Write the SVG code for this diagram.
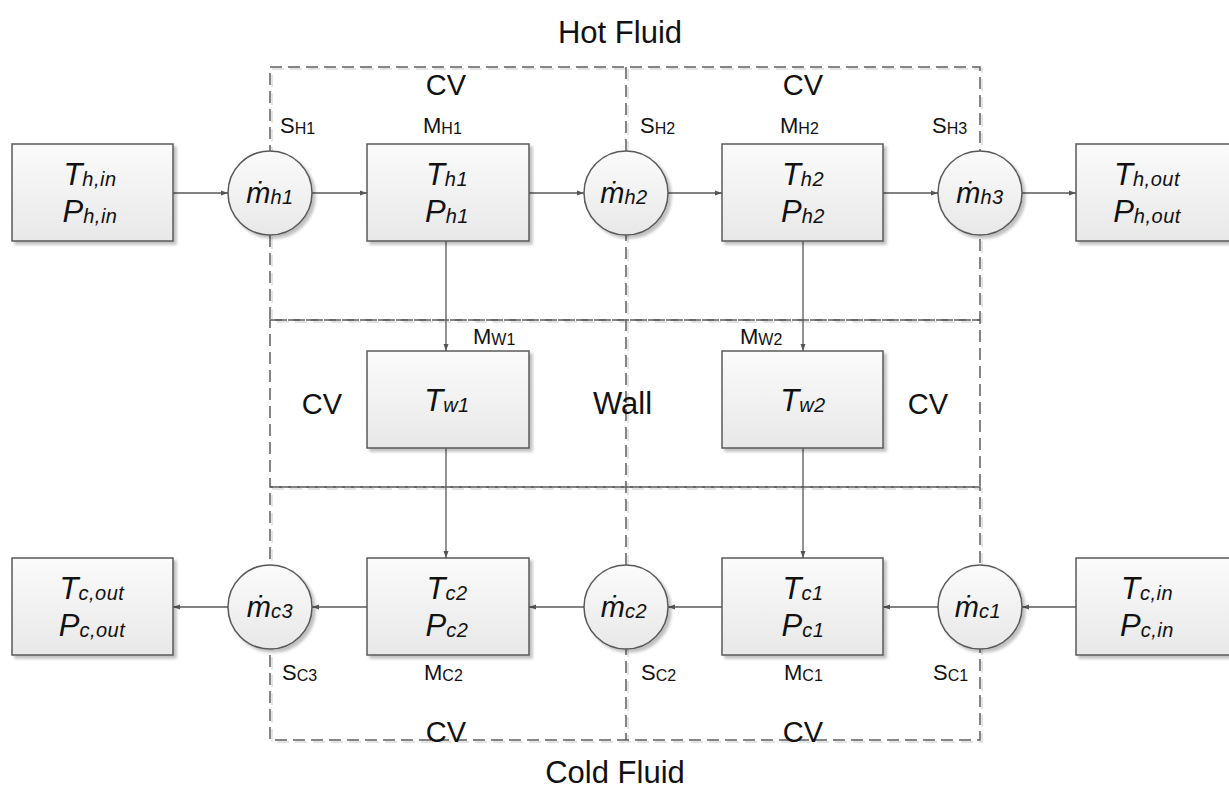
<svg xmlns="http://www.w3.org/2000/svg" width="1229" height="790" viewBox="0 0 1229 790">
<defs>
<linearGradient id="g" x1="0" y1="0" x2="0" y2="1">
<stop offset="0" stop-color="#fbfbfb"/>
<stop offset="1" stop-color="#e8e8e8"/>
</linearGradient>
<filter id="sh" x="-10%" y="-10%" width="130%" height="130%">
<feGaussianBlur in="SourceAlpha" stdDeviation="1.5"/>
<feOffset dx="3" dy="3" result="b"/>
<feComponentTransfer><feFuncA type="linear" slope="0.25"/></feComponentTransfer>
<feMerge><feMergeNode/><feMergeNode in="SourceGraphic"/></feMerge>
</filter>
<marker id="arr" markerWidth="8" markerHeight="8" refX="7" refY="4" orient="auto" markerUnits="userSpaceOnUse">
<path d="M0,1.5 L7,4 L0,6.5 Z" fill="#555"/>
</marker>
</defs>
<style>
.box{fill:url(#g);stroke:#595959;stroke-width:1.5;filter:url(#sh)}
.dash{fill:none;stroke:#5e5e5e;stroke-width:1.5;stroke-dasharray:12 6}
.dashsh{fill:none;stroke:#dcdcdc;stroke-width:1.5;stroke-dasharray:12 6}
.con{fill:none;stroke:#595959;stroke-width:1.3;marker-end:url(#arr)}
text{font-family:"Liberation Sans",Arial,sans-serif;fill:#111}
.nv{font-size:31px;font-style:italic;text-anchor:middle}
.sub{font-size:20px;letter-spacing:0.5px}
.cn{font-size:29px;font-style:italic;text-anchor:middle}
.big{font-size:31px;text-anchor:middle}
.cv{font-size:29px;text-anchor:middle}
.lb{font-size:22px}
.lsub{font-size:16px}
</style>

<g id="control-volumes">
<rect class="dashsh" x="272" y="69" width="710" height="253"/>
<rect class="dashsh" x="272" y="489" width="710" height="253"/>
<line class="dashsh" x1="628" y1="69" x2="628" y2="742"/>
<rect class="dash" x="270" y="67" width="710" height="253"/>
<rect class="dash" x="270" y="320" width="710" height="167"/>
<rect class="dash" x="270" y="487" width="710" height="253"/>
<line class="dash" x1="626" y1="67" x2="626" y2="740"/>
</g>

<g id="connectors">
<line class="con" x1="173" y1="193" x2="228" y2="193"/>
<line class="con" x1="312" y1="193" x2="367" y2="193"/>
<line class="con" x1="529" y1="193" x2="584" y2="193"/>
<line class="con" x1="668" y1="193" x2="722" y2="193"/>
<line class="con" x1="883" y1="193" x2="938" y2="193"/>
<line class="con" x1="1022" y1="193" x2="1076" y2="193"/>
<line class="con" x1="446" y1="241" x2="446" y2="351"/>
<line class="con" x1="803" y1="241" x2="803" y2="351"/>
<line class="con" x1="446" y1="448" x2="446" y2="558"/>
<line class="con" x1="803" y1="448" x2="803" y2="558"/>
<line class="con" x1="1076" y1="607" x2="1022" y2="607"/>
<line class="con" x1="938" y1="607" x2="883" y2="607"/>
<line class="con" x1="722" y1="607" x2="668" y2="607"/>
<line class="con" x1="584" y1="607" x2="529" y2="607"/>
<line class="con" x1="367" y1="607" x2="312" y2="607"/>
<line class="con" x1="228" y1="607" x2="173" y2="607"/>
</g>

<g id="Th_in">
<rect class="box" x="12" y="144" width="161" height="97"/>
<text class="nv" x="90" y="185">T<tspan class="sub" dy="1">h,in</tspan></text>
<text class="nv" x="90" y="222">P<tspan class="sub" dy="1">h,in</tspan></text>
</g>
<g id="mh1">
<circle class="box" cx="270" cy="193" r="42"/>
<text class="cn" x="270" y="203">ṁ<tspan class="sub" dy="1">h1</tspan></text>
</g>
<g id="Th1">
<rect class="box" x="367" y="144" width="162" height="97"/>
<text class="nv" x="447" y="185">T<tspan class="sub" dy="1">h1</tspan></text>
<text class="nv" x="447" y="222">P<tspan class="sub" dy="1">h1</tspan></text>
</g>
<g id="mh2">
<circle class="box" cx="626" cy="193" r="42"/>
<text class="cn" x="624" y="203">ṁ<tspan class="sub" dy="1">h2</tspan></text>
</g>
<g id="Th2">
<rect class="box" x="722" y="144" width="161" height="97"/>
<text class="nv" x="803" y="185">T<tspan class="sub" dy="1">h2</tspan></text>
<text class="nv" x="803" y="222">P<tspan class="sub" dy="1">h2</tspan></text>
</g>
<g id="mh3">
<circle class="box" cx="980" cy="193" r="42"/>
<text class="cn" x="980" y="203">ṁ<tspan class="sub" dy="1">h3</tspan></text>
</g>
<g id="Th_out">
<rect class="box" x="1076" y="144" width="161" height="97"/>
<text class="nv" x="1147" y="185">T<tspan class="sub" dy="1">h,out</tspan></text>
<text class="nv" x="1147" y="222">P<tspan class="sub" dy="1">h,out</tspan></text>
</g>

<g id="Tw1">
<rect class="box" x="367" y="351" width="162" height="97"/>
<text class="nv" x="447" y="411">T<tspan class="sub" dy="1">w1</tspan></text>
</g>
<g id="Tw2">
<rect class="box" x="722" y="351" width="161" height="97"/>
<text class="nv" x="803" y="411">T<tspan class="sub" dy="1">w2</tspan></text>
</g>

<g id="Tc_out">
<rect class="box" x="12" y="558" width="161" height="97"/>
<text class="nv" x="92" y="599">T<tspan class="sub" dy="1">c,out</tspan></text>
<text class="nv" x="92" y="636">P<tspan class="sub" dy="1">c,out</tspan></text>
</g>
<g id="mc3">
<circle class="box" cx="270" cy="607" r="42"/>
<text class="cn" x="270" y="617">ṁ<tspan class="sub" dy="1">c3</tspan></text>
</g>
<g id="Tc2">
<rect class="box" x="367" y="558" width="162" height="97"/>
<text class="nv" x="447" y="599">T<tspan class="sub" dy="1">c2</tspan></text>
<text class="nv" x="447" y="636">P<tspan class="sub" dy="1">c2</tspan></text>
</g>
<g id="mc2">
<circle class="box" cx="626" cy="607" r="42"/>
<text class="cn" x="624" y="617">ṁ<tspan class="sub" dy="1">c2</tspan></text>
</g>
<g id="Tc1">
<rect class="box" x="722" y="558" width="161" height="97"/>
<text class="nv" x="803" y="599">T<tspan class="sub" dy="1">c1</tspan></text>
<text class="nv" x="803" y="636">P<tspan class="sub" dy="1">c1</tspan></text>
</g>
<g id="mc1">
<circle class="box" cx="980" cy="607" r="42"/>
<text class="cn" x="978" y="617">ṁ<tspan class="sub" dy="1">c1</tspan></text>
</g>
<g id="Tc_in">
<rect class="box" x="1076" y="558" width="161" height="97"/>
<text class="nv" x="1147" y="599">T<tspan class="sub" dy="1">c,in</tspan></text>
<text class="nv" x="1147" y="636">P<tspan class="sub" dy="1">c,in</tspan></text>
</g>

<g id="labels">
<text class="big" x="620" y="43">Hot Fluid</text>
<text class="big" x="615" y="783">Cold Fluid</text>
<text class="cv" x="446" y="95">CV</text>
<text class="cv" x="803" y="95">CV</text>
<text class="cv" x="322" y="414">CV</text>
<text class="cv" x="928" y="414">CV</text>
<text style="font-size:31px" x="593" y="414">Wall</text>
<text class="cv" x="446" y="742">CV</text>
<text class="cv" x="803" y="742">CV</text>
<text class="lb" x="280" y="133">S<tspan class="lsub" dy="1">H1</tspan></text>
<text class="lb" x="423" y="133">M<tspan class="lsub" dy="1">H1</tspan></text>
<text class="lb" x="640" y="133">S<tspan class="lsub" dy="1">H2</tspan></text>
<text class="lb" x="780" y="133">M<tspan class="lsub" dy="1">H2</tspan></text>
<text class="lb" x="932" y="133">S<tspan class="lsub" dy="1">H3</tspan></text>
<text class="lb" x="473" y="344">M<tspan class="lsub" dy="1">W1</tspan></text>
<text class="lb" x="740" y="344">M<tspan class="lsub" dy="1">W2</tspan></text>
<text class="lb" x="282" y="680">S<tspan class="lsub" dy="1">C3</tspan></text>
<text class="lb" x="424" y="680">M<tspan class="lsub" dy="1">C2</tspan></text>
<text class="lb" x="641" y="680">S<tspan class="lsub" dy="1">C2</tspan></text>
<text class="lb" x="784" y="680">M<tspan class="lsub" dy="1">C1</tspan></text>
<text class="lb" x="933" y="680">S<tspan class="lsub" dy="1">C1</tspan></text>
</g>
</svg>
